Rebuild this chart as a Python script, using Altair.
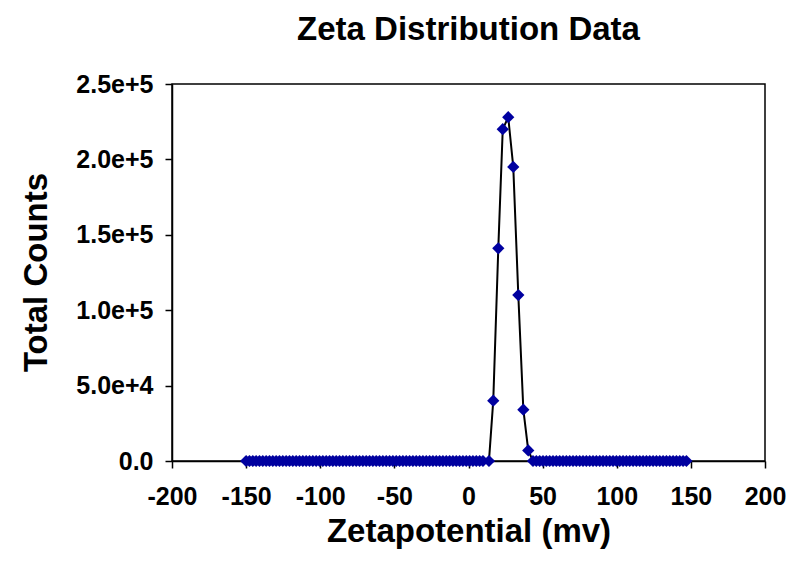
import altair as alt
import pandas as pd

# Baseline (zero-count) points on the left of the peak
left_x = [-150, -147.75, -145.5, -143.25, -141, -138.75, -136.5, -134.25, -132, -129.75,
          -127.5, -125.25, -123, -120.75, -118.5, -116.25, -114, -111.75, -109.5, -107.25,
          -105, -102.75, -100.5, -98.25, -96, -93.75, -91.5, -89.25, -87, -84.75,
          -82.5, -80.25, -78, -75.75, -73.5, -71.25, -69, -66.75, -64.5, -62.25,
          -60, -57.75, -55.5, -53.25, -51, -48.75, -46.5, -44.25, -42, -39.75,
          -37.5, -35.25, -33, -30.75, -28.5, -26.25, -24, -21.75, -19.5, -17.25,
          -15, -12.75, -10.5, -8.25, -6, -3.75, -1.5, 0.75, 3, 5.25, 7.5, 9.75]
left_y = [0] * len(left_x)

# Peak points
peak_x = [13.8, 16.7, 20.1, 23.1, 26.8, 30.2, 33.6, 37.0, 40.3, 43.5]
peak_y = [0, 40000, 141000, 220000, 228000, 195000, 110000, 34000, 7000, 0]

# Baseline (zero-count) points on the right of the peak
right_x = [45.75, 48, 50.25, 52.5, 54.75, 57, 59.25, 61.5, 63.75, 66,
           68.25, 70.5, 72.75, 75, 77.25, 79.5, 81.75, 84, 86.25, 88.5,
           90.75, 93, 95.25, 97.5, 99.75, 102, 104.25, 106.5, 108.75, 111,
           113.25, 115.5, 117.75, 120, 122.25, 124.5, 126.75, 129, 131.25, 133.5,
           135.75, 138, 140.25, 142.5, 144.75, 147]
right_y = [0] * len(right_x)

x_ticks = [-200, -150, -100, -50, 0, 50, 100, 150, 200]
y_ticks = [0, 50000, 100000, 150000, 200000, 250000]

df = pd.DataFrame({
    "z": left_x + peak_x + right_x,
    "counts": left_y + peak_y + right_y,
})

FONT = "Liberation Sans"

x_enc = alt.X(
    "z:Q",
    scale=alt.Scale(domain=[-200, 200], nice=False, zero=False),
    axis=alt.Axis(
        values=x_ticks,
        title="Zetapotential (mv)",
        labelExpr="toString(datum.value)",
        titleY=80,
        titleBaseline="alphabetic",
    ),
)
y_enc = alt.Y(
    "counts:Q",
    scale=alt.Scale(domain=[0, 250000], nice=False),
    axis=alt.Axis(
        values=y_ticks,
        title="Total Counts",
        labelExpr="datum.value == 0 ? '0.0' : format(datum.value, '.1e')",
        titleX=-126,
        titleY=188,
        titleBaseline="alphabetic",
    ),
)

line = alt.Chart(df).mark_line(color="black", strokeWidth=2).encode(
    x=x_enc, y=y_enc, order="z:Q"
)
points = alt.Chart(df).mark_point(
    shape="diamond", filled=True, color="#0000A0", size=150, opacity=1
).encode(x=x_enc, y=y_enc)

chart = (
    alt.layer(line, points)
    .properties(
        width=593,
        height=377,
        autosize="none",
        background="white",
        padding={"left": 164, "top": 76, "right": 22, "bottom": 95},
        title=alt.TitleParams(
            "Zeta Distribution Data",
            font=FONT,
            fontSize=33,
            fontWeight="bold",
            anchor="middle",
            offset=25,
            color="black",
        ),
    )
    .configure_view(stroke="black", strokeWidth=1.5)
    .configure_axis(
        grid=False,
        domainColor="black",
        domainWidth=1.5,
        tickColor="black",
        tickWidth=1.5,
        tickSize=7,
        labelFont=FONT,
        labelFontSize=25,
        labelFontWeight="bold",
        labelColor="black",
        titleFont=FONT,
        titleFontSize=33,
        titleFontWeight="bold",
        titleColor="black",
        labelFlush=False,
        labelOverlap=False,
    )
    .configure_axisX(labelPadding=16)
    .configure_axisY(labelPadding=12)
)

chart.save("out.html", embed_options={"renderer": "svg", "actions": False})
